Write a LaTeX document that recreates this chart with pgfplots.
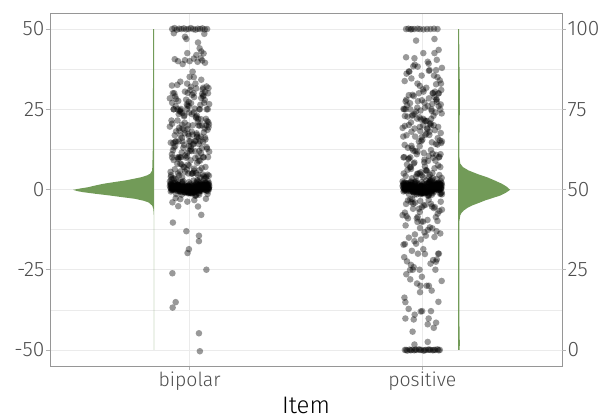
\documentclass[border=0pt]{standalone}
\usepackage{fontspec}
\setmainfont{Fira Sans Light}
\usepackage{pgfplots}
\usepackage{pgfplotstable}
\pgfplotsset{compat=1.18}

\definecolor{violin}{RGB}{114,155,88}
\definecolor{gridc}{RGB}{235,235,235}
\definecolor{labc}{RGB}{77,77,77}
\definecolor{borderc}{RGB}{150,150,150}
\definecolor{tickc}{RGB}{179,179,179}

% jittered responses, item "bipolar" (x near 1), scale -50..50
\pgfplotstableread{
x y
0.928 0.2
1.015 -0.8
1.061 1.1
0.966 2.3
1.043 -0.3
0.942 0.7
1.004 1.8
1.077 -1.4
0.981 0.4
1.032 2.8
0.919 -0.6
1.052 1.5
0.955 0.0
1.024 -1.9
0.994 0.9
1.068 2.1
0.973 -0.2
1.009 1.3
0.936 0.5
1.039 -1.1
1.071 1.0
0.988 -0.1
0.934 0.6
1.028 -1.6
0.951 2.5
1.056 0.3
0.998 -0.5
0.922 1.7
1.019 -0.9
0.963 0.1
1.083 2.0
0.947 -0.4
1.046 1.2
0.977 0.8
1.011 -1.2
0.931 0.0
1.035 2.6
0.992 -0.7
1.062 1.4
0.959 0.2
0.948 0.2
1.037 1.4
0.985 -0.7
1.079 2.6
0.925 0.0
1.006 -1.2
1.058 0.8
0.969 1.2
1.022 -0.4
0.938 2.0
1.049 0.1
0.996 -0.9
1.073 1.7
0.956 -0.5
1.013 0.3
0.915 2.5
1.041 -1.6
0.976 0.6
1.066 -0.1
0.991 1.0
1.003 -1.1
0.953 0.5
1.084 1.3
0.979 -0.2
1.054 2.1
0.932 0.9
1.027 -1.9
0.989 0.0
1.065 1.5
0.961 -0.6
1.017 2.8
1.075 0.4
0.942 -1.4
1.044 1.8
0.924 0.7
1.031 -0.3
0.997 2.3
1.059 1.1
0.967 -0.8
1.081 0.2
0.928 1.0
1.015 -0.1
1.061 0.6
0.966 -1.6
1.043 2.5
0.942 0.3
1.004 -0.5
1.077 1.7
0.981 -0.9
1.032 0.1
0.919 2.0
1.052 -0.4
0.955 1.2
1.024 0.8
0.994 -1.2
1.068 0.0
0.973 2.6
1.009 -0.7
0.936 1.4
1.039 0.2
1.071 0.5
0.988 0.0
0.934 1.0
1.028 -0.5
0.951 1.5
1.056 0.3
0.998 0.8
0.922 -0.2
1.019 1.2
0.963 0.6
1.083 0.1
0.947 1.4
1.046 -0.4
0.977 0.9
1.011 0.4
0.931 1.1
1.035 -0.1
0.992 0.7
1.062 1.3
0.959 0.2
0.948 0.5
1.037 0.0
0.985 1.0
1.079 -0.5
0.925 1.5
1.006 0.3
1.058 0.8
0.969 -0.2
1.022 1.2
0.938 0.6
1.049 0.1
0.996 1.4
1.073 -0.4
0.956 0.9
1.013 0.4
0.915 1.1
1.041 -0.1
0.976 0.7
1.066 1.3
0.991 0.2
1.003 0.2
0.953 1.3
1.084 0.7
0.979 -0.1
1.054 1.1
0.932 0.4
1.027 0.9
0.989 -0.4
1.065 1.4
0.961 0.1
1.017 0.6
1.075 1.2
0.942 -0.2
1.044 0.8
0.924 0.3
1.031 1.5
0.997 -0.5
1.059 1.0
0.967 0.0
1.081 0.5
0.926 -4.0
0.951 -5.2
0.990 -3.8
1.036 -5.3
1.050 -7.9
0.928 -10.3
0.986 -13.0
1.040 -14.4
1.040 -16.1
0.997 -18.6
0.991 -19.8
1.072 -25.0
0.926 -26.1
0.940 -35.1
0.927 -36.8
1.040 -44.8
1.044 -50.4
0.960 -3.0
1.070 -2.9
1.020 -3.3
0.940 -2.7
0.928 3.5
1.015 5.2
1.061 4.1
0.966 7.8
1.043 6.0
0.942 3.2
1.004 9.1
1.077 4.6
0.981 5.5
1.032 8.3
0.919 3.9
1.052 6.7
0.955 4.4
1.024 9.8
0.994 5.0
1.068 3.6
0.973 7.1
1.009 4.9
0.936 6.3
1.039 8.9
1.071 4.0
0.988 6.2
0.934 3.4
1.028 5.1
0.951 9.5
1.056 4.7
0.998 7.4
0.922 3.1
1.019 5.9
0.963 10.0
1.083 4.3
0.947 8.0
1.046 3.7
0.977 6.9
1.011 5.0
0.931 9.2
1.035 4.5
0.992 7.7
1.062 3.3
0.959 5.6
0.948 10.0
1.037 10.2
0.985 9.9
1.079 10.1
0.925 10.0
1.006 12.5
1.058 14.8
0.969 15.0
1.022 15.1
0.938 14.9
1.049 11.3
0.996 16.7
1.073 13.2
0.956 18.4
1.013 17.1
0.915 19.6
1.041 12.0
0.976 13.9
1.066 16.2
0.991 18.9
1.003 15.0
0.953 10.0
1.084 11.8
0.979 17.5
1.054 20.0
0.932 13.1
1.027 15.2
0.989 10.3
1.065 19.0
0.961 16.8
1.017 14.3
1.075 12.7
0.942 18.1
1.044 15.0
0.924 11.0
1.031 17.0
0.997 13.5
1.059 10.1
0.967 16.1
1.081 19.4
0.928 12.2
1.015 14.0
1.061 17.8
0.966 11.5
1.043 19.9
0.942 15.0
1.004 13.3
1.077 18.6
0.981 10.6
1.032 16.4
0.919 14.6
1.052 12.9
0.955 19.2
1.024 11.9
0.994 17.3
1.068 15.6
0.973 13.0
1.009 18.0
0.936 16.9
1.039 14.2
1.071 20.0
0.988 25.0
0.934 30.0
1.028 22.3
0.951 27.6
1.056 31.2
0.998 24.0
0.922 21.5
1.019 28.8
0.963 25.1
1.083 20.3
0.947 32.6
1.046 26.4
0.977 23.1
1.011 29.5
0.931 25.0
1.035 21.0
0.992 30.1
1.062 27.0
0.959 24.7
0.948 25.0
1.037 22.0
0.985 28.0
1.079 30.0
0.925 20.5
1.006 26.9
1.058 31.7
0.969 23.8
1.022 25.2
0.938 29.0
1.049 21.9
0.996 27.3
1.073 32.1
0.956 24.4
1.013 20.0
0.915 28.4
1.041 25.0
0.976 22.8
1.066 30.4
0.991 26.1
1.003 31.0
0.953 23.5
1.084 26.6
0.979 20.8
1.054 29.8
0.932 25.0
1.027 22.6
0.989 33.0
1.065 27.9
0.961 24.2
1.017 30.0
1.075 21.3
0.942 28.2
1.044 25.0
0.924 32.4
1.031 23.0
0.997 26.0
1.059 29.3
0.967 20.2
1.081 31.6
0.925 50.0
0.935 50.3
0.945 49.8
0.955 50.1
0.965 50.0
0.975 50.2
0.985 49.9
0.995 50.0
1.005 50.3
1.015 50.0
1.025 49.8
1.035 50.1
1.045 50.0
1.055 50.2
1.065 49.9
1.075 50.0
0.986 46.9
1.036 45.8
1.043 44.0
0.990 42.5
1.029 41.9
1.050 43.0
1.060 42.4
1.063 48.5
0.932 48.7
0.980 47.6
0.936 40.6
0.950 40.0
0.970 39.1
0.980 40.3
1.000 40.0
1.018 40.8
1.054 40.2
1.066 39.5
1.048 40.9
1.034 39.8
1.013 36.7
1.000 35.1
1.018 35.0
1.025 33.0
0.960 33.6
1.050 34.2
}\bipolar

% more "bipolar" responses
\pgfplotstableread{
x y
0.920 0.4
0.960 1.0
1.000 -0.3
1.040 0.7
1.080 1.6
0.940 0.1
0.980 -0.8
1.020 1.2
1.060 0.5
0.930 2.0
0.970 -0.1
1.010 0.9
1.050 1.4
0.950 0.3
0.990 -0.6
1.030 1.8
1.070 0.6
0.925 -0.2
1.005 1.1
1.045 0.0
1.078 1.3
1.038 0.2
0.998 0.8
0.958 -0.5
0.918 0.5
1.058 1.7
1.018 0.0
0.978 -0.9
0.938 1.0
1.068 0.4
1.028 2.2
0.988 -0.4
0.948 0.6
1.048 1.5
1.008 -0.2
0.968 0.9
0.928 0.3
1.073 1.2
0.993 -1.0
0.953 0.7
0.920 1.3
0.960 0.2
1.000 0.8
1.040 -0.5
1.080 0.5
0.940 1.7
0.980 0.0
1.020 -0.9
1.060 1.0
0.930 0.4
0.970 2.2
1.010 -0.4
1.050 0.6
0.950 1.5
0.990 -0.2
1.030 0.9
1.070 0.3
0.925 1.2
1.005 -1.0
1.045 0.7
1.078 0.4
1.038 1.0
0.998 -0.3
0.958 0.7
0.918 1.6
1.058 0.1
1.018 -0.8
0.978 1.2
0.938 0.5
1.068 2.0
1.028 -0.1
0.988 0.9
0.948 1.4
1.048 0.3
1.008 -0.6
0.968 1.8
0.928 0.6
1.073 -0.2
0.993 1.1
0.953 0.0
0.920 4.5
0.960 8.0
1.000 12.0
1.040 16.0
1.080 21.0
0.940 26.0
0.980 30.5
1.020 6.5
1.060 10.0
0.930 14.5
0.970 19.0
1.010 23.5
1.050 28.5
0.950 5.0
0.990 11.5
1.030 17.5
1.070 22.0
0.925 27.0
1.005 32.0
1.045 9.0
1.078 25.0
1.038 20.0
0.998 15.0
0.958 10.0
0.918 5.5
1.058 29.0
1.018 24.0
0.978 18.5
0.938 13.5
1.068 7.0
1.028 31.5
0.988 26.5
0.948 21.5
1.048 16.5
1.008 12.0
0.968 3.8
0.928 30.0
1.073 25.0
0.993 20.0
0.953 15.0
}\bipolarb

% jittered responses, item "positive" (x near 2), shifted to -50..50
\pgfplotstableread{
x y
1.928 0.2
2.015 -0.8
2.061 1.1
1.966 2.3
2.043 -0.3
1.942 0.7
2.004 1.8
2.077 -1.4
1.981 0.4
2.032 2.8
1.919 -0.6
2.052 1.5
1.955 0.0
2.024 -1.9
1.994 0.9
2.068 2.1
1.973 -0.2
2.009 1.3
1.936 0.5
2.039 -1.1
2.071 1.0
1.988 -0.1
1.934 0.6
2.028 -1.6
1.951 2.5
2.056 0.3
1.998 -0.5
1.922 1.7
2.019 -0.9
1.963 0.1
2.083 2.0
1.947 -0.4
2.046 1.2
1.977 0.8
2.011 -1.2
1.931 0.0
2.035 2.6
1.992 -0.7
2.062 1.4
1.959 0.2
1.948 0.2
2.037 1.4
1.985 -0.7
2.079 2.6
1.925 0.0
2.006 -1.2
2.058 0.8
1.969 1.2
2.022 -0.4
1.938 2.0
2.049 0.1
1.996 -0.9
2.073 1.7
1.956 -0.5
2.013 0.3
1.915 2.5
2.041 -1.6
1.976 0.6
2.066 -0.1
1.991 1.0
2.003 -1.1
1.953 0.5
2.084 1.3
1.979 -0.2
2.054 2.1
1.932 0.9
2.027 -1.9
1.989 0.0
2.065 1.5
1.961 -0.6
2.017 2.8
2.075 0.4
1.942 -1.4
2.044 1.8
1.924 0.7
2.031 -0.3
1.997 2.3
2.059 1.1
1.967 -0.8
2.081 0.2
1.928 1.0
2.015 -0.1
2.061 0.6
1.966 -1.6
2.043 2.5
1.942 0.3
2.004 -0.5
2.077 1.7
1.981 -0.9
2.032 0.1
1.919 2.0
2.052 -0.4
1.955 1.2
2.024 0.8
1.994 -1.2
2.068 0.0
1.973 2.6
2.009 -0.7
1.936 1.4
2.039 0.2
2.071 0.5
1.988 -0.6
1.934 1.6
2.028 -1.2
1.951 2.2
2.056 0.2
1.998 1.0
1.922 -0.3
2.019 1.8
1.963 0.8
2.083 -0.9
1.947 1.3
2.046 0.0
1.977 2.0
2.011 -0.5
1.931 1.1
2.035 0.4
1.992 -1.5
2.062 1.5
1.959 0.7
1.948 0.5
2.037 -0.6
1.985 1.6
2.079 -1.2
1.925 2.2
2.006 0.2
2.058 1.0
1.969 -0.3
2.022 1.8
1.938 0.8
2.049 -0.9
1.996 1.3
2.073 0.0
1.956 2.0
2.013 -0.5
1.915 1.1
2.041 0.4
1.976 -1.5
2.066 1.5
1.991 0.7
2.003 0.7
1.953 1.5
2.084 -1.5
1.979 0.4
2.054 1.1
1.932 -0.5
2.027 2.0
1.989 0.0
2.065 1.3
1.961 -0.9
2.017 0.8
2.075 1.8
1.942 -0.3
2.044 1.0
1.924 0.2
2.031 2.2
1.997 -1.2
2.059 1.6
1.967 -0.6
2.081 0.5
1.928 4.2
2.015 6.0
2.061 3.3
1.966 8.4
2.043 5.1
1.942 9.7
2.004 3.8
2.077 7.0
1.981 5.0
2.032 4.6
1.919 10.0
2.052 6.6
1.955 3.5
2.024 8.9
1.994 5.4
2.068 7.5
1.973 4.0
2.009 9.3
1.936 6.1
2.039 3.1
2.071 10.0
1.988 5.0
1.934 7.8
2.028 3.9
1.951 6.4
2.056 9.0
1.998 4.4
1.922 10.1
2.019 5.7
1.963 8.1
2.083 3.6
1.947 6.9
2.046 9.9
1.977 4.8
2.011 7.2
1.948 10.0
2.037 12.3
1.985 15.0
2.079 17.6
1.925 19.8
2.006 11.4
2.058 14.2
1.969 16.5
2.022 18.8
1.938 13.0
2.049 20.0
1.996 15.1
2.073 10.2
1.956 12.8
2.013 17.0
1.915 19.2
2.041 14.7
1.976 11.0
2.066 16.0
1.991 18.2
2.003 20.0
1.953 13.6
2.084 15.0
1.979 11.8
2.054 18.5
1.932 16.9
2.027 10.5
1.989 19.5
2.065 14.0
1.961 12.1
2.017 17.4
2.075 15.3
1.942 20.1
2.044 11.2
1.924 13.9
2.031 18.0
1.997 16.3
2.059 10.8
1.967 19.0
2.081 14.5
1.928 25.0
2.015 21.3
2.061 28.1
1.966 23.6
2.043 26.7
1.942 29.4
2.004 22.0
2.077 24.9
1.981 27.5
2.032 20.4
1.919 25.1
2.052 28.8
1.955 23.0
2.024 26.0
1.994 21.8
2.068 29.9
1.973 24.3
2.009 27.1
1.936 22.7
2.039 25.0
2.071 30.0
1.988 22.5
1.934 26.3
2.028 28.4
1.951 20.9
2.056 24.0
1.998 27.8
1.922 25.0
2.019 21.4
1.963 29.1
2.083 23.7
1.947 26.9
2.046 30.0
1.977 22.1
2.011 25.5
1.931 28.0
2.035 20.6
1.992 24.6
2.062 27.3
1.959 23.2
1.948 25.0
2.037 20.0
1.985 30.0
2.079 26.5
1.925 22.9
2.003 31.2
1.953 34.6
2.084 37.9
1.979 33.0
2.054 30.5
1.932 36.1
2.027 39.2
1.989 32.3
2.065 35.0
1.961 38.4
2.017 31.7
2.075 34.0
1.942 36.8
2.044 30.0
1.924 33.8
2.031 37.2
1.997 35.5
2.059 32.8
1.967 38.9
2.081 31.0
1.930 50.0
1.940 50.1
1.950 49.9
1.955 50.0
1.965 50.0
1.980 50.1
1.990 50.0
2.005 49.9
2.020 50.0
2.035 50.0
2.050 50.1
2.065 50.0
1.973 46.4
2.052 46.9
1.930 41.2
1.966 40.9
2.004 42.5
2.023 39.8
2.052 42.5
2.070 43.5
2.062 40.4
1.980 38.3
1.944 36.7
2.059 37.2
1.948 -3.1
2.037 -4.5
1.985 -6.0
2.079 -3.8
1.925 -7.2
2.006 -5.0
2.058 -8.6
1.969 -4.1
2.022 -9.5
1.938 -3.4
2.049 -5.8
1.996 -10.0
2.073 -6.7
1.956 -3.0
2.013 -4.8
1.915 -8.0
2.041 -5.3
1.976 -9.0
2.066 -7.5
1.991 -3.6
2.003 -10.0
1.953 -4.0
2.084 -6.3
1.979 -10.1
2.054 -5.5
1.932 -8.3
2.027 -3.2
1.989 -7.0
2.065 -9.8
1.961 -4.4
1.928 -11.2
2.015 -14.4
2.061 -13.0
1.966 -16.1
2.043 -12.1
1.942 -15.0
2.004 -18.6
2.077 -13.7
1.981 -20.0
2.032 -11.8
1.919 -17.2
2.052 -14.8
1.955 -19.1
2.024 -12.6
1.994 -15.6
2.068 -20.0
1.973 -16.9
2.009 -13.3
2.071 -20.0
1.988 -25.0
1.934 -22.4
2.028 -30.0
1.951 -23.5
2.056 -25.0
1.998 -27.2
1.922 -21.1
2.019 -30.0
1.963 -24.2
2.083 -28.5
1.947 -25.1
2.046 -22.0
1.977 -29.3
2.011 -20.1
1.931 -26.4
2.035 -23.1
1.992 -30.0
2.062 -21.8
1.959 -25.0
1.923 -33.7
1.927 -35.1
1.941 -37.2
1.963 -40.5
1.927 -40.2
1.958 -44.3
2.027 -40.2
1.999 -37.9
2.037 -37.9
2.059 -41.5
2.069 -35.0
2.023 -42.0
2.049 -43.1
1.967 -39.0
1.966 -48.3
2.023 -47.5
1.990 -32.0
2.040 -31.5
1.925 -50.0
1.935 -50.2
1.945 -49.9
1.955 -50.0
1.965 -50.1
1.975 -50.0
1.985 -49.8
1.995 -50.0
2.005 -50.2
2.015 -50.0
2.025 -49.9
2.035 -50.0
2.045 -50.1
2.055 -50.0
2.065 -49.8
2.075 -50.0
1.930 -50.0
1.950 -50.1
1.970 -49.9
1.990 -50.0
2.010 -50.1
2.030 -49.9
2.050 -50.0
2.070 -50.1
}\positive

% more "positive" responses
\pgfplotstableread{
x y
1.920 0.4
1.960 1.0
2.000 -0.3
2.040 0.7
2.080 1.6
1.940 0.1
1.980 -0.8
2.020 1.2
2.060 0.5
1.930 2.0
1.970 -0.1
2.010 0.9
2.050 1.4
1.950 0.3
1.990 -0.6
2.030 1.8
2.070 0.6
1.925 -0.2
2.005 1.1
2.045 0.0
2.078 1.3
2.038 0.2
1.998 0.8
1.958 -0.5
1.918 0.5
2.058 1.7
2.018 0.0
1.978 -0.9
1.938 1.0
2.068 0.4
2.028 2.2
1.988 -0.4
1.948 0.6
2.048 1.5
2.008 -0.2
1.968 0.9
1.928 0.3
2.073 1.2
1.993 -1.0
1.953 0.7
1.920 1.3
1.960 0.2
2.000 0.8
2.040 -0.5
2.080 0.5
1.940 1.7
1.980 0.0
2.020 -0.9
2.060 1.0
1.930 0.4
1.970 2.2
2.010 -0.4
2.050 0.6
1.950 1.5
1.990 -0.2
2.030 0.9
2.070 0.3
1.925 1.2
2.005 -1.0
2.045 0.7
2.078 0.4
2.038 1.0
1.998 -0.3
1.958 0.7
1.918 1.6
2.058 0.1
2.018 -0.8
1.978 1.2
1.938 0.5
2.068 2.0
2.028 -0.1
1.988 0.9
1.948 1.4
2.048 0.3
2.008 -0.6
1.968 1.8
1.928 0.6
2.073 -0.2
1.993 1.1
1.953 0.0
1.920 5.0
1.960 -6.0
2.000 15.5
2.040 24.5
2.080 33.0
1.940 9.5
1.980 -8.5
2.020 19.0
2.060 28.0
1.930 -4.5
1.970 12.0
2.010 21.5
2.050 35.5
1.950 7.0
1.990 -12.0
2.030 17.0
2.070 26.0
1.925 -17.0
2.005 30.5
2.045 3.5
2.078 11.0
2.038 22.0
1.998 -5.5
1.958 29.5
1.918 16.5
2.058 -22.5
2.018 6.0
1.978 25.5
1.938 -9.0
2.068 19.5
2.028 37.0
1.988 13.5
1.948 -28.0
2.048 23.0
2.008 8.5
1.968 -14.0
1.928 27.5
2.073 4.5
1.993 -38.0
1.953 18.0
}\positiveb

\begin{document}
\begin{tikzpicture}
\begin{axis}[
  scale only axis,
  width=512bp, height=353bp,
  xmin=0.4, xmax=2.6,
  ymin=-55, ymax=55,
  xtick={1,2}, xticklabels={bipolar,positive},
  ytick={-50,-25,0,25,50}, yticklabels={-50,-25,0,25,50},
  minor ytick={-37.5,-12.5,12.5,37.5},
  xmajorgrids, ymajorgrids, yminorgrids,
  major grid style={gridc, line width=0.6bp},
  minor grid style={gridc, line width=0.35bp},
  tick pos=left, tick align=outside,
  major tick length=4bp, minor tick length=0pt,
  tick style={tickc, line width=0.6bp},
  axis line style={borderc, line width=0.7bp},
  ticklabel style={text=labc},
  xticklabel style={font=\fontsize{19.5}{20}\selectfont, inner sep=2bp},
  yticklabel style={font=\fontsize{21}{22}\selectfont, inner sep=1.5bp},
  xlabel={Item},
  xlabel style={font=\fontsize{24}{25}\selectfont, text=black, inner sep=0pt, yshift=-4bp},
]
\coordinate (sw) at (rel axis cs:0,0);
\coordinate (ne) at (rel axis cs:1,1);

% half violin, bipolar (left side)
\addplot[fill=violin, draw=none] coordinates {
  (0.847,50) (0.843,50) (0.843,40) (0.8425,30) (0.8422,20) (0.8415,12)
  (0.840,8) (0.839,5.9) (0.830,4.9) (0.817,4.4) (0.794,3.85) (0.757,3.3)
  (0.722,2.8) (0.675,2.3) (0.629,1.78) (0.595,1.25) (0.565,0.73) (0.529,0.3)
  (0.499,-0.1) (0.517,-0.5) (0.543,-0.84) (0.597,-1.35) (0.658,-1.88)
  (0.712,-2.4) (0.765,-2.9) (0.802,-3.5) (0.823,-4.0) (0.839,-5.0)
  (0.844,-6) (0.846,-8) (0.8466,-50) (0.847,-50)
};
% half violin, positive (right side)
\addplot[fill=violin, draw=none] coordinates {
  (2.154,50) (2.158,50) (2.1585,45) (2.159,40) (2.1605,35) (2.1615,30)
  (2.161,25) (2.160,20) (2.159,15) (2.1595,10) (2.1626,8.1) (2.174,7)
  (2.198,5.95) (2.234,4.9) (2.277,3.85) (2.311,2.8) (2.342,1.78) (2.364,0.8)
  (2.377,-0.1) (2.359,-1.0) (2.334,-1.9) (2.304,-2.6) (2.270,-3.4)
  (2.242,-4.2) (2.213,-5.0) (2.192,-5.8) (2.177,-6.6) (2.168,-7.3)
  (2.1626,-8.1) (2.159,-10) (2.1585,-20) (2.1585,-30) (2.159,-40)
  (2.160,-45) (2.161,-48) (2.160,-50) (2.154,-50)
};

\pgfplotsset{jit/.style={only marks, mark=*, mark size=3.3pt,
  mark options={fill=black, fill opacity=0.4, draw opacity=0}}}
\addplot[jit] table {\bipolar};
\addplot[jit] table {\bipolarb};
\addplot[jit] table {\positive};
\addplot[jit] table {\positiveb};
\end{axis}

% secondary scale on the right (0..100)
\begin{axis}[
  scale only axis,
  width=512bp, height=353bp,
  xmin=0.4, xmax=2.6,
  ymin=-5, ymax=105,
  axis y line*=right, axis x line=none,
  axis line style={draw=none},
  ytick={0,25,50,75,100}, yticklabels={0,25,50,75,100},
  tick align=outside, major tick length=4bp,
  tick style={tickc, line width=0.6bp},
  yticklabel style={font=\fontsize{21}{22}\selectfont, text=labc, inner sep=1.5bp},
]
\addplot[draw=none] coordinates {(1,50)};
\end{axis}

\pgfresetboundingbox
\path ([xshift=-50bp,yshift=-53bp]sw) rectangle ([xshift=54bp,yshift=13bp]ne);
\end{tikzpicture}
\end{document}
